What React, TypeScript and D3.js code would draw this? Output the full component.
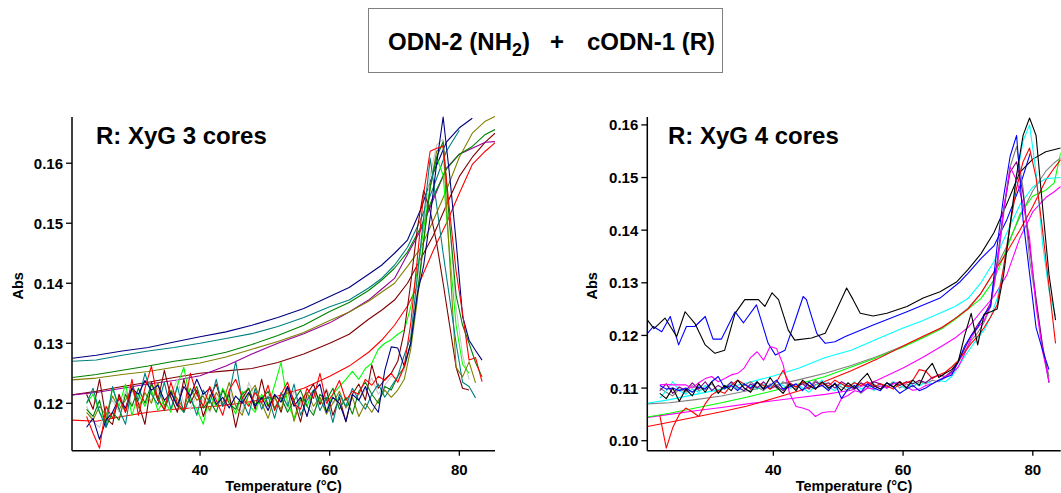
import React from "react";
import * as d3 from "d3";

// ---------------- LEFT PANEL (R: XyG 3 cores) ----------------
const leftSmoothT = [20.3, 24, 28, 32, 36, 40, 44, 48, 52, 56, 60, 63, 66, 68, 70, 72, 74, 76, 78, 80, 82, 84, 85.5];
const leftNavySmooth = [0.1275, 0.1280, 0.1287, 0.1293, 0.1302, 0.1311, 0.1319, 0.1330, 0.1343, 0.1358, 0.1378, 0.1393, 0.1415, 0.1430, 0.1450, 0.1472, 0.1522, 0.1584, 0.1635, 0.1659, 0.1675, null, null];
const leftTealSmooth = [0.1270, 0.1272, 0.1280, 0.1287, 0.1293, 0.1300, 0.1308, 0.1316, 0.1328, 0.1343, 0.1361, 0.1372, 0.1392, 0.1408, 0.1430, 0.1460, 0.1505, 0.1560, 0.1620, 0.1655, null, null, null];
const leftGreenSmooth = [0.1243, 0.1248, 0.1255, 0.1262, 0.1270, 0.1276, 0.1285, 0.1298, 0.1313, 0.1330, 0.1353, 0.1368, 0.1388, 0.1405, 0.1425, 0.1452, 0.1492, 0.1545, 0.1590, 0.1615, 0.1628, 0.1648, 0.1656];
const leftOliveSmooth = [0.1239, 0.1242, 0.1248, 0.1253, 0.1260, 0.1267, 0.1277, 0.1290, 0.1303, 0.1318, 0.1338, 0.1352, 0.1370, 0.1385, 0.1400, 0.1428, 0.1458, 0.1505, 0.1555, 0.1610, 0.1650, 0.1670, 0.1678];
const leftPurpleSmooth = [0.1214, 0.1218, 0.1225, 0.1232, 0.1238, 0.1246, 0.1262, 0.1282, 0.1300, 0.1316, 0.1334, 0.1352, 0.1372, 0.1390, 0.1408, 0.1448, 0.1488, 0.1540, 0.1592, 0.1615, 0.1625, 0.1635, 0.1636];
const leftMaroonSmooth = [0.1214, 0.1220, 0.1228, 0.1235, 0.1243, 0.1250, 0.1254, 0.1258, 0.1268, 0.1282, 0.1300, 0.1315, 0.1340, 0.1355, 0.1372, 0.1400, 0.1440, 0.1480, 0.1530, 0.1578, 0.1610, 0.1635, 0.1650];
const leftRedSmooth = [0.1172, 0.1170, 0.1178, 0.1185, 0.1190, 0.1193, 0.1197, 0.1203, 0.1212, 0.1225, 0.1245, 0.1262, 0.1285, 0.1305, 0.1330, 0.1362, 0.1405, 0.1455, 0.1500, 0.1550, 0.1598, 0.1620, 0.1634];

const leftNoisyT = [
  22.5, 23.5, 24.5, 25.5, 26.5, 27.5, 28.5, 29.5, 30.5, 31.5,
  32.5, 33.5, 34.5, 35.5, 36.5, 37.5, 38.5, 39.5, 40.5, 41.5,
  42.5, 43.5, 44.5, 45.5, 46.5, 47.5, 48.5, 49.5, 50.5, 51.5,
  52.5, 53.5, 54.5, 55.5, 56.5, 57.5, 58.5, 59.5, 60.5, 61.5,
  62.5, 63.5, 64.5, 65.5, 66.5, 67.5, 68.5, 69.5, 70.5, 71.5,
  72.5, 73.5, 74.5, 75.5, 76.5, 77.5, 78.5, 79.5, 80.5, 81.5,
  82.5, 83.5,
];
const leftNavyNoisy = [
  0.1160, 0.1175, 0.1140, 0.1172, 0.1185, 0.1208, 0.1192, 0.1225, 0.1215, 0.1238,
  0.1222, 0.1230, 0.1205, 0.1218, 0.1195, 0.1228, 0.1212, 0.1240, 0.1215, 0.1225,
  0.1198, 0.1210, 0.1192, 0.1212, 0.1200, 0.1218, 0.1195, 0.1210, 0.1188, 0.1215,
  0.1202, 0.1228, 0.1195, 0.1210, 0.1178, 0.1220, 0.1232, 0.1185, 0.1210, 0.1200,
  0.1170, 0.1215, 0.1205, 0.1228, 0.1200, 0.1185, 0.1255, 0.1294, 0.1292, 0.1262,
  0.1300, 0.1380, 0.1430, 0.1510, 0.1600, 0.1677, 0.1580, 0.1470, 0.1345, 0.1305,
  0.1288, 0.1272,
];
const leftTealNoisy = [
  0.1200, 0.1225, 0.1185, 0.1160, 0.1228, 0.1190, 0.1165, 0.1230, 0.1205, 0.1250,
  0.1215, 0.1198, 0.1235, 0.1190, 0.1228, 0.1185, 0.1212, 0.1180, 0.1222, 0.1200,
  0.1240, 0.1195, 0.1215, 0.1270, 0.1205, 0.1180, 0.1225, 0.1190, 0.1212, 0.1175,
  0.1218, 0.1195, 0.1232, 0.1180, 0.1205, 0.1222, 0.1188, 0.1210, 0.1168, 0.1215,
  0.1195, 0.1225, 0.1205, 0.1190, 0.1215, 0.1232, 0.1210, 0.1228, 0.1245, 0.1280,
  0.1310, 0.1410, 0.1510, 0.1608, 0.1530, 0.1450, 0.1375, 0.1300, 0.1235, 0.1228,
  0.1209, null,
];
const leftGreenNoisy = [
  0.1190, 0.1178, 0.1205, 0.1160, 0.1185, 0.1172, 0.1215, 0.1195, 0.1225, 0.1200,
  0.1232, 0.1210, 0.1188, 0.1220, 0.1198, 0.1185, 0.1212, 0.1228, 0.1192, 0.1205,
  0.1185, 0.1222, 0.1200, 0.1190, 0.1215, 0.1225, 0.1198, 0.1208, 0.1220, 0.1192,
  0.1210, 0.1185, 0.1205, 0.1222, 0.1195, 0.1180, 0.1215, 0.1205, 0.1225, 0.1190,
  0.1210, 0.1182, 0.1220, 0.1235, 0.1215, 0.1200, 0.1228, 0.1222, 0.1245, 0.1260,
  0.1300, 0.1380, 0.1470, 0.1560, 0.1610, 0.1636, 0.1500, 0.1380, 0.1330, 0.1300,
  0.1268, 0.1244,
];
const leftOliveNoisy = [
  0.1185, 0.1172, 0.1195, 0.1180, 0.1212, 0.1190, 0.1205, 0.1225, 0.1192, 0.1218,
  0.1200, 0.1235, 0.1195, 0.1222, 0.1208, 0.1190, 0.1225, 0.1205, 0.1212, 0.1188,
  0.1218, 0.1200, 0.1235, 0.1195, 0.1180, 0.1215, 0.1230, 0.1200, 0.1175, 0.1210,
  0.1190, 0.1225, 0.1170, 0.1205, 0.1218, 0.1195, 0.1210, 0.1182, 0.1200, 0.1220,
  0.1192, 0.1210, 0.1178, 0.1200, 0.1185, 0.1205, 0.1222, 0.1210, 0.1222, 0.1240,
  0.1290, 0.1370, 0.1470, 0.1560, 0.1620, 0.1630, 0.1440, 0.1260, 0.1244, 0.1269,
  0.1234, null,
];
const leftMaroonNoisy = [
  0.1215, 0.1190, 0.1240, 0.1175, 0.1165, 0.1215, 0.1185, 0.1225, 0.1200, 0.1165,
  0.1235, 0.1205, 0.1255, 0.1210, 0.1185, 0.1240, 0.1200, 0.1222, 0.1178, 0.1210,
  0.1232, 0.1195, 0.1215, 0.1160, 0.1208, 0.1225, 0.1190, 0.1240, 0.1195, 0.1212,
  0.1185, 0.1228, 0.1205, 0.1169, 0.1215, 0.1232, 0.1198, 0.1222, 0.1180, 0.1210,
  0.1169, 0.1215, 0.1232, 0.1205, 0.1264, 0.1225, 0.1240, 0.1250, 0.1270, 0.1320,
  0.1400, 0.1490, 0.1555, 0.1520, 0.1467, 0.1400, 0.1330, 0.1260, 0.1225, 0.1222,
  null, null,
];
const leftRedNoisy = [
  0.1178, 0.1150, 0.1125, 0.1195, 0.1175, 0.1210, 0.1185, 0.1240, 0.1180, 0.1225,
  0.1262, 0.1205, 0.1190, 0.1235, 0.1200, 0.1188, 0.1250, 0.1215, 0.1195, 0.1228,
  0.1205, 0.1180, 0.1222, 0.1240, 0.1210, 0.1195, 0.1218, 0.1200, 0.1230, 0.1188,
  0.1215, 0.1235, 0.1200, 0.1190, 0.1225, 0.1208, 0.1250, 0.1200, 0.1215, 0.1238,
  0.1205, 0.1220, 0.1215, 0.1240, 0.1230, 0.1245, 0.1238, 0.1250, 0.1235, 0.1262,
  0.1333, 0.1439, 0.1550, 0.1620, 0.1625, 0.1628, 0.1520, 0.1420, 0.1350, 0.1272,
  0.1276, 0.1236,
];
const leftLimeNoisy = [
  0.1200, 0.1215, 0.1185, 0.1170, 0.1225, 0.1195, 0.1232, 0.1180, 0.1215, 0.1195,
  0.1222, 0.1188, 0.1205, 0.1185, 0.1230, 0.1260, 0.1205, 0.1190, 0.1165, 0.1215,
  0.1195, 0.1225, 0.1205, 0.1182, 0.1220, 0.1198, 0.1185, 0.1215, 0.1195, 0.1230,
  0.1268, 0.1200, 0.1175, 0.1210, 0.1195, 0.1222, 0.1205, 0.1188, 0.1215, 0.1228,
  0.1240, 0.1253, 0.1240, 0.1258, 0.1267, 0.1290, 0.1300, 0.1306, 0.1315, 0.1322,
  0.1360, 0.1420, 0.1490, 0.1560, 0.1610, 0.1580, 0.1450, 0.1330, 0.1265, 0.1250,
  null, null,
];
const leftSilverNoisy = [
  0.1195, 0.1170, 0.1160, 0.1190, 0.1205, 0.1185, 0.1220, 0.1200, 0.1195, 0.1215,
  0.1205, 0.1225, 0.1195, 0.1212, 0.1240, 0.1200, 0.1190, 0.1215, 0.1205, 0.1185,
  0.1210, 0.1195, 0.1220, 0.1200, 0.1185, 0.1235, 0.1210, 0.1200, 0.1190, 0.1215,
  0.1205, 0.1190, 0.1220, 0.1198, 0.1212, 0.1185, 0.1205, 0.1225, 0.1200, 0.1210,
  0.1195, 0.1215, 0.1205, 0.1222, 0.1242, 0.1215, 0.1230, 0.1245, 0.1240, 0.1255,
  0.1300, 0.1400, 0.1500, 0.1580, 0.1630, 0.1640, 0.1500, 0.1360, 0.1280, 0.1240,
  null, null,
];

// ---------------- RIGHT PANEL (R: XyG 4 cores) ----------------
const rightSmoothT = [20.6, 24, 28, 32, 36, 40, 44, 48, 52, 56, 60, 63, 66, 68, 70, 72, 74, 76, 78, 80, 82, 83.3, 84.3];
const rightCyanSmooth = [0.1071, 0.1078, 0.1088, 0.1098, 0.1110, 0.1123, 0.1138, 0.1158, 0.1172, 0.1193, 0.1214, 0.1228, 0.1244, 0.1255, 0.1270, 0.1300, 0.1340, 0.1395, 0.1448, 0.1482, 0.1498, 0.1499, 0.1500];
const rightGraySmooth = [0.1070, 0.1072, 0.1078, 0.1085, 0.1095, 0.1105, 0.1116, 0.1128, 0.1143, 0.1160, 0.1180, 0.1196, 0.1215, 0.1232, 0.1252, 0.1280, 0.1320, 0.1370, 0.1425, 0.1475, 0.1512, 0.1528, 0.1537];
const rightGreenSmooth = [0.1045, 0.1052, 0.1062, 0.1072, 0.1083, 0.1095, 0.1108, 0.1122, 0.1140, 0.1158, 0.1178, 0.1195, 0.1213, 0.1230, 0.1250, 0.1270, 0.1305, 0.1365, 0.1430, 0.1465, 0.1476, 0.1490, 0.1547];
const rightRedSmooth = [0.1027, 0.1035, 0.1045, 0.1055, 0.1066, 0.1080, 0.1095, 0.1113, 0.1133, 0.1155, 0.1180, 0.1198, 0.1215, 0.1232, 0.1250, 0.1280, 0.1320, 0.1358, 0.1400, 0.1445, 0.1495, 0.1518, 0.1534];
const rightMagentaSmooth = [0.1044, 0.1050, 0.1057, 0.1063, 0.1070, 0.1076, 0.1082, 0.1088, 0.1096, 0.1115, 0.1138, 0.1158, 0.1180, 0.1195, 0.1215, 0.1245, 0.1274, 0.1315, 0.1385, 0.1435, 0.1462, 0.1473, 0.1483];

const rightBlackSmoothT = [20.6, 21.6, 23.3, 25.1, 26.4, 27.9, 29.5, 31.0, 32.5, 34.1, 35.6, 37.7, 38.7, 39.8, 40.8, 42.3, 43.3, 45.9, 48.0, 49.5, 51.3, 52.3, 53.4, 55.4, 57.5, 60.6, 63.1, 65.7, 68.3, 70, 72, 74, 76, 78, 80, 82, 84.3];
const rightBlackSmooth = [
  0.1229, 0.1213, 0.1233, 0.1198, 0.1245, 0.1223, 0.1182, 0.1166, 0.1172, 0.1242,
  0.1268, 0.1268, 0.1255, 0.1281, 0.1268, 0.1210, 0.1191, 0.1195, 0.1204, 0.1242,
  0.1290, 0.1268, 0.1242, 0.1237, 0.1242, 0.1255, 0.1271, 0.1283, 0.1302, 0.1325,
  0.1355, 0.1395, 0.1450, 0.1510, 0.1535, 0.1549, 0.1556,
];
const rightBlueSmoothT = [20.6, 21.5, 22.8, 24.1, 25.4, 26.6, 27.9, 29.5, 30.7, 32.0, 34.1, 35.4, 37.4, 39.2, 40.3, 41.8, 43.3, 44.6, 45.1, 46.7, 48.0, 49.5, 51.1, 55.4, 60.6, 65.7, 68.8, 70, 72, 74, 76, 78, 79.6];
const rightBlueSmooth = [
  0.1204, 0.1217, 0.1207, 0.1236, 0.1182, 0.1217, 0.1217, 0.1236, 0.1193, 0.1193,
  0.1245, 0.1224, 0.1258, 0.1185, 0.1163, 0.1172, 0.1226, 0.1274, 0.1268, 0.1204,
  0.1185, 0.1188, 0.1198, 0.1220, 0.1245, 0.1271, 0.1302, 0.1318, 0.1346, 0.1370,
  0.1420, 0.1483, 0.1546,
];

const rightNoisyT = [
  22.5, 23.5, 24.5, 25.5, 26.5, 27.5, 28.5, 29.5, 30.5, 31.5,
  32.5, 33.5, 34.5, 35.5, 36.5, 37.5, 38.5, 39.5, 40.5, 41.5,
  42.5, 43.5, 44.5, 45.5, 46.5, 47.5, 48.5, 49.5, 50.5, 51.5,
  52.5, 53.5, 54.5, 55.5, 56.5, 57.5, 58.5, 59.5, 60.5, 61.5,
  62.5, 63.5, 64.5, 65.5, 66.5, 67.5, 68.5, 69.5, 70.5, 71.5,
  72.5, 73.5, 74.5, 75.5, 76.5, 77.5, 78.5, 79.5, 80.5, 81.5,
  82.5, 83.5,
];
const rightBlueNoisy = [
  0.1105, 0.1098, 0.1100, 0.1095, 0.1100, 0.1092, 0.1102, 0.1098, 0.1112, 0.1122,
  0.1100, 0.1105, 0.1095, 0.1108, 0.1100, 0.1112, 0.1098, 0.1105, 0.1115, 0.1098,
  0.1102, 0.1108, 0.1095, 0.1112, 0.1100, 0.1105, 0.1095, 0.1110, 0.1080, 0.1098,
  0.1105, 0.1092, 0.1108, 0.1100, 0.1095, 0.1110, 0.1102, 0.1090, 0.1098, 0.1105,
  0.1095, 0.1100, 0.1108, 0.1115, 0.1120, 0.1125, 0.1150, 0.1180, 0.1200, 0.1215,
  0.1240, 0.1255, 0.1370, 0.1464, 0.1540, 0.1580, 0.1420, 0.1318, 0.1215, 0.1172,
  0.1135, null,
];
const rightBlackNoisy = [
  0.1090, 0.1080, 0.1100, 0.1075, 0.1098, 0.1085, 0.1108, 0.1092, 0.1112, 0.1090,
  0.1105, 0.1095, 0.1115, 0.1100, 0.1092, 0.1112, 0.1098, 0.1120, 0.1102, 0.1090,
  0.1108, 0.1095, 0.1115, 0.1105, 0.1098, 0.1112, 0.1100, 0.1108, 0.1095, 0.1110,
  0.1100, 0.1115, 0.1128, 0.1105, 0.1098, 0.1110, 0.1102, 0.1112, 0.1100, 0.1115,
  0.1105, 0.1132, 0.1147, 0.1120, 0.1128, 0.1135, 0.1150, 0.1200, 0.1242, 0.1182,
  0.1240, 0.1245, 0.1250, 0.1315, 0.1410, 0.1505, 0.1580, 0.1613, 0.1580, 0.1445,
  0.1315, 0.1229,
];
const rightMagentaNoisy = [
  0.1106, 0.1107, 0.1106, 0.1106, 0.1106, 0.1100, 0.1110, 0.1118, 0.1122, 0.1112,
  0.1118, 0.1125, 0.1128, 0.1138, 0.1158, 0.1169, 0.1153, 0.1179, 0.1175, 0.1145,
  0.1090, 0.1065, 0.1062, 0.1058, 0.1046, 0.1053, 0.1055, 0.1055, 0.1080, 0.1086,
  0.1095, 0.1092, 0.1100, 0.1098, 0.1104, 0.1100, 0.1108, 0.1112, 0.1102, 0.1096,
  0.1098, 0.1105, 0.1108, 0.1115, 0.1122, 0.1128, 0.1140, 0.1165, 0.1195, 0.1215,
  0.1228, 0.1260, 0.1330, 0.1440, 0.1520, 0.1495, 0.1450, 0.1385, 0.1255, 0.1170,
  0.1112, null,
];
const rightCyanNoisy = [
  0.1081, 0.1095, 0.1112, 0.1095, 0.1088, 0.1098, 0.1092, 0.1105, 0.1098, 0.1090,
  0.1102, 0.1108, 0.1100, 0.1095, 0.1105, 0.1098, 0.1108, 0.1100, 0.1112, 0.1105,
  0.1098, 0.1108, 0.1100, 0.1092, 0.1105, 0.1115, 0.1102, 0.1095, 0.1108, 0.1100,
  0.1112, 0.1098, 0.1105, 0.1095, 0.1108, 0.1100, 0.1112, 0.1105, 0.1098, 0.1110,
  0.1104, 0.1112, 0.1108, 0.1115, 0.1112, 0.1122, 0.1140, 0.1160, 0.1178, 0.1195,
  0.1210, 0.1235, 0.1270, 0.1330, 0.1410, 0.1500, 0.1570, 0.1600, 0.1510, 0.1375,
  0.1285, 0.1236,
];
const rightRedNoisy = [
  0.1048, 0.0986, 0.1025, 0.1050, 0.1062, 0.1055, 0.1046, 0.1070, 0.1087, 0.1095,
  0.1090, 0.1105, 0.1115, 0.1108, 0.1098, 0.1110, 0.1105, 0.1098, 0.1112, 0.1134,
  0.1108, 0.1102, 0.1112, 0.1105, 0.1098, 0.1110, 0.1104, 0.1115, 0.1108, 0.1102,
  0.1110, 0.1105, 0.1112, 0.1102, 0.1108, 0.1104, 0.1098, 0.1108, 0.1110, 0.1115,
  0.1135, 0.1132, 0.1118, 0.1125, 0.1130, 0.1140, 0.1152, 0.1168, 0.1185, 0.1198,
  0.1215, 0.1235, 0.1258, 0.1330, 0.1410, 0.1480, 0.1530, 0.1556, 0.1500, 0.1400,
  0.1293, 0.1185,
];
const rightGrayNoisy = [
  0.1100, 0.1092, 0.1085, 0.1098, 0.1092, 0.1105, 0.1095, 0.1100, 0.1108, 0.1095,
  0.1102, 0.1110, 0.1098, 0.1105, 0.1112, 0.1102, 0.1095, 0.1108, 0.1100, 0.1112,
  0.1105, 0.1098, 0.1110, 0.1102, 0.1115, 0.1105, 0.1098, 0.1108, 0.1102, 0.1095,
  0.1105, 0.1090, 0.1100, 0.1108, 0.1098, 0.1104, 0.1112, 0.1100, 0.1108, 0.1102,
  0.1112, 0.1108, 0.1115, 0.1112, 0.1120, 0.1130, 0.1148, 0.1170, 0.1190, 0.1205,
  0.1225, 0.1255, 0.1330, 0.1430, 0.1520, 0.1559, 0.1480, 0.1345, 0.1265, 0.1180,
  0.1122, null,
];
const rightPurpleNoisy = [
  0.1095, 0.1108, 0.1090, 0.1102, 0.1095, 0.1110, 0.1098, 0.1112, 0.1095, 0.1105,
  0.1098, 0.1112, 0.1102, 0.1095, 0.1108, 0.1100, 0.1112, 0.1098, 0.1105, 0.1095,
  0.1110, 0.1102, 0.1108, 0.1098, 0.1112, 0.1105, 0.1110, 0.1100, 0.1112, 0.1105,
  0.1098, 0.1110, 0.1102, 0.1112, 0.1108, 0.1100, 0.1110, 0.1105, 0.1112, 0.1108,
  0.1115, 0.1110, 0.1120, 0.1125, 0.1122, 0.1132, 0.1150, 0.1175, 0.1200, 0.1220,
  0.1238, 0.1262, 0.1340, 0.1440, 0.1510, 0.1530, 0.1470, 0.1370, 0.1270, 0.1180,
  0.1110, null,
];

// ---------------- Axis ticks & labels ----------------
const leftYTicks = [0.12, 0.13, 0.14, 0.15, 0.16];
const rightYTicks = [0.10, 0.11, 0.12, 0.13, 0.14, 0.15, 0.16];
const xTicks = [40, 60, 80];
const leftTitle = "R: XyG 3 cores";
const rightTitle = "R: XyG 4 cores";
const yLabel = "Abs";
const xLabel = "Temperature (°C)";

type Series = { t: number[]; v: (number | null)[]; color: string };

const leftSeries: Series[] = [
  { t: leftSmoothT, v: leftRedSmooth, color: "#ff0000" },
  { t: leftSmoothT, v: leftMaroonSmooth, color: "#800000" },
  { t: leftSmoothT, v: leftPurpleSmooth, color: "#990099" },
  { t: leftSmoothT, v: leftOliveSmooth, color: "#808000" },
  { t: leftSmoothT, v: leftGreenSmooth, color: "#008000" },
  { t: leftSmoothT, v: leftTealSmooth, color: "#008080" },
  { t: leftSmoothT, v: leftNavySmooth, color: "#000080" },
  { t: leftNoisyT, v: leftSilverNoisy, color: "#c8c8c8" },
  { t: leftNoisyT, v: leftLimeNoisy, color: "#00ff00" },
  { t: leftNoisyT, v: leftMaroonNoisy, color: "#800000" },
  { t: leftNoisyT, v: leftOliveNoisy, color: "#808000" },
  { t: leftNoisyT, v: leftGreenNoisy, color: "#008000" },
  { t: leftNoisyT, v: leftTealNoisy, color: "#008080" },
  { t: leftNoisyT, v: leftNavyNoisy, color: "#000080" },
  { t: leftNoisyT, v: leftRedNoisy, color: "#ff0000" },
];

const rightSeries: Series[] = [
  { t: rightSmoothT, v: rightMagentaSmooth, color: "#ff00ff" },
  { t: rightSmoothT, v: rightGraySmooth, color: "#808080" },
  { t: rightSmoothT, v: rightGreenSmooth, color: "#00ff00" },
  { t: rightSmoothT, v: rightRedSmooth, color: "#ff0000" },
  { t: rightSmoothT, v: rightCyanSmooth, color: "#00ffff" },
  { t: rightBlueSmoothT, v: rightBlueSmooth, color: "#0000ff" },
  { t: rightBlackSmoothT, v: rightBlackSmooth, color: "#000000" },
  { t: rightNoisyT, v: rightGrayNoisy, color: "#808080" },
  { t: rightNoisyT, v: rightCyanNoisy, color: "#00ffff" },
  { t: rightNoisyT, v: rightPurpleNoisy, color: "#800080" },
  { t: rightNoisyT, v: rightMagentaNoisy, color: "#ff00ff" },
  { t: rightNoisyT, v: rightRedNoisy, color: "#ff0000" },
  { t: rightNoisyT, v: rightBlueNoisy, color: "#0000ff" },
  { t: rightNoisyT, v: rightBlackNoisy, color: "#000000" },
];

const FONT = "'Liberation Sans', Arial, Helvetica, sans-serif";

type PanelProps = {
  id: string;
  xRange: [number, number];
  yRange: [number, number]; // [bottom, top]
  xDomain: [number, number];
  yDomain: [number, number];
  yTicks: number[];
  series: Series[];
  title: string;
  titleX: number;
  yLabelX: number;
};

function Panel(p: PanelProps) {
  const x = d3.scaleLinear().domain(p.xDomain).range(p.xRange);
  const y = d3.scaleLinear().domain(p.yDomain).range(p.yRange);
  const line = d3
    .line<[number, number | null]>()
    .defined((d) => d[1] !== null)
    .x((d) => x(d[0]))
    .y((d) => y(d[1] as number));
  const fmt = d3.format(".2f");
  const [x0, x1] = p.xRange;
  const [yb, yt] = p.yRange;
  return (
    <g>
      <defs>
        <clipPath id={p.id}>
          <rect x={x0} y={yt - 1} width={x1 - x0} height={yb - yt + 1} />
        </clipPath>
      </defs>
      <g clipPath={`url(#${p.id})`}>
        {p.series.map((s, i) => (
          <path
            key={i}
            d={line(s.t.map((t, j) => [t, s.v[j]] as [number, number | null])) || ""}
            fill="none"
            stroke={s.color}
            strokeWidth={1.1}
            strokeLinejoin="round"
          />
        ))}
      </g>
      <line x1={x0} x2={x0} y1={yt} y2={yb} stroke="#000" strokeWidth={1.5} />
      <line x1={x0} x2={x1} y1={yb} y2={yb} stroke="#000" strokeWidth={1.5} />
      {p.yTicks.map((t) => (
        <g key={t}>
          <line x1={x0 - 6} x2={x0} y1={y(t)} y2={y(t)} stroke="#000" strokeWidth={1.3} />
          <text x={x0 - 9} y={y(t) + 5.5} textAnchor="end" fontSize={15} fontWeight="bold" fontFamily={FONT}>
            {fmt(t)}
          </text>
        </g>
      ))}
      {xTicks.map((t) => (
        <g key={t}>
          <line x1={x(t)} x2={x(t)} y1={yb} y2={yb + 5} stroke="#000" strokeWidth={1.3} />
          <text x={x(t)} y={yb + 24.5} textAnchor="middle" fontSize={15} fontWeight="bold" fontFamily={FONT}>
            {t}
          </text>
        </g>
      ))}
      <text
        transform={`translate(${p.yLabelX},${(yt + yb) / 2 + 2}) rotate(-90)`}
        textAnchor="middle"
        fontSize={14.5}
        fontWeight="bold"
        fontFamily={FONT}
      >
        {yLabel}
      </text>
      <text x={(x0 + x1) / 2} y={491} textAnchor="middle" fontSize={14.5} fontWeight="bold" fontFamily={FONT}>
        {xLabel}
      </text>
      <text x={p.titleX} y={144} fontSize={24} fontWeight="bold" fontFamily={FONT}>
        {p.title}
      </text>
    </g>
  );
}

export default function App() {
  return (
    <svg
      width={1061}
      height={493}
      viewBox="0 0 1061 493"
      style={{ position: "absolute", left: 0, top: 0, display: "block", background: "#fff" }}
    >
      <rect x={0} y={0} width={1061} height={493} fill="#fff" />
      <rect x={368.5} y={8.5} width={354} height={64} fill="none" stroke="#808080" strokeWidth={1} />
      <text x={388} y={50} fontSize={24} fontWeight="bold" fontFamily={FONT}>
        ODN-2 (NH
        <tspan dy={6} fontSize={18}>2</tspan>
        <tspan dy={-6}>)</tspan>
      </text>
      <text x={557} y={50} textAnchor="middle" fontSize={24} fontWeight="bold" fontFamily={FONT}>
        +
      </text>
      <text x={587} y={50} fontSize={24} fontWeight="bold" fontFamily={FONT}>
        cODN-1 (R)
      </text>
      <Panel
        id="clipL"
        xRange={[72, 495]}
        yRange={[450.7, 117]}
        xDomain={[20.25, 85.5]}
        yDomain={[0.1121, 0.1677]}
        yTicks={leftYTicks}
        series={leftSeries}
        title={leftTitle}
        titleX={96}
        yLabelX={23}
      />
      <Panel
        id="clipR"
        xRange={[647.3, 1060.7]}
        yRange={[450.7, 117]}
        xDomain={[20.57, 84.3]}
        yDomain={[0.0981, 0.1615]}
        yTicks={rightYTicks}
        series={rightSeries}
        title={rightTitle}
        titleX={668}
        yLabelX={597}
      />
    </svg>
  );
}
